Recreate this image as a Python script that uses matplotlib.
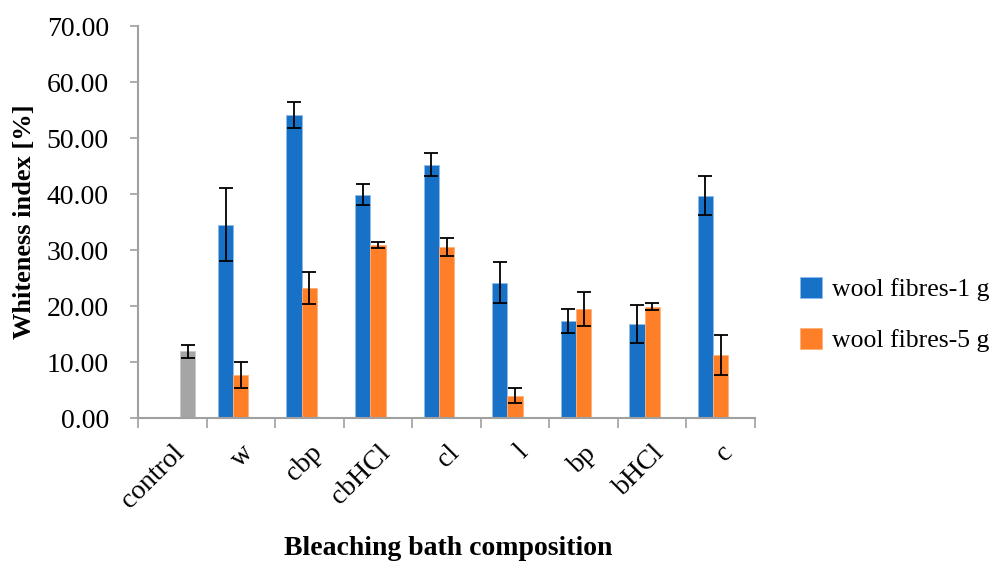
import matplotlib
matplotlib.use("Agg")
import matplotlib.pyplot as plt
import numpy as np

categories = ["control", "w", "cbp", "cbHCl", "cl", "l", "bp", "bHCl", "c"]
wool_1g = [0, 34.5, 54.1, 39.9, 45.2, 24.2, 17.4, 16.8, 39.7]
wool_1g_err = [0, 6.5, 2.4, 1.95, 2.05, 3.7, 2.15, 3.45, 3.45]
wool_5g = [0, 7.7, 23.2, 30.9, 30.6, 4.0, 19.5, 19.9, 11.3]
wool_5g_err = [0, 2.25, 2.85, 0.5, 1.6, 1.35, 3.05, 0.6, 3.55]
control = [11.9, 0, 0, 0, 0, 0, 0, 0, 0]
control_err = [1.1, 0, 0, 0, 0, 0, 0, 0, 0]
yticks = [0, 10, 20, 30, 40, 50, 60, 70]

plt.rcParams['font.family'] = ['Liberation Serif', 'DejaVu Serif']

fig = plt.figure(figsize=(10, 5.63), dpi=100)
ax = fig.add_axes([0.138, 0.2575, 0.617, 0.6963])

x = np.arange(len(categories))
w = 0.223
ekw = dict(elinewidth=1.3, capthick=1.3, ecolor='black')

def draw(vals, errs, off, color, edge, label):
    vals = np.array(vals, float)
    errs = np.array(errs, float)
    m = vals > 0
    ax.bar(x[m] + off, vals[m], w, color=color, edgecolor=edge,
           linewidth=0.6, label=label, zorder=2)
    ax.errorbar(x[m] + off, vals[m], yerr=errs[m], fmt='none', capsize=5, zorder=3, **ekw)

draw(wool_1g, wool_1g_err, -w, '#1772C7', '#8fbbe6', 'wool fibres-1 g')
draw(wool_5g, wool_5g_err, 0, '#FE7F27', '#ffb07a', 'wool fibres-5 g')
draw(control, control_err, w, '#A5A5A5', '#c8c8c8', None)

FS = 20
ax.set_xlim(-0.5, len(categories) - 0.5)
ax.set_ylim(0, 70)
ax.set_yticks(yticks)
ax.set_yticklabels([f"{v:.2f}" for v in yticks], fontsize=FS)
ax.set_xticks(x)
ax.set_xticklabels(categories, rotation=45, ha='right', va='top', rotation_mode='anchor', fontsize=FS)
ax.tick_params(axis='x', length=0, pad=16)
ax.set_xticks(np.arange(len(categories) + 1) - 0.5, minor=True)
ax.tick_params(axis='x', which='minor', length=7, width=1.2, color='#A0A0A0', direction='out')
ax.tick_params(axis='y', length=6, width=1.2, color='#A0A0A0', direction='out', pad=15)

for s in ['top', 'right']:
    ax.spines[s].set_visible(False)
for s in ['left', 'bottom']:
    ax.spines[s].set_color('#A0A0A0')
    ax.spines[s].set_linewidth(1.5)

ax.set_ylabel("Whiteness index [%]", fontsize=19, fontweight='bold')
ax.yaxis.label.set_va('center')
ax.yaxis.set_label_coords(-0.184, 0.5)
ax.set_xlabel("Bleaching bath composition", fontsize=FS, fontweight='bold')
ax.xaxis.label.set_va('center')
ax.xaxis.set_label_coords(0.502, -0.332)

handles, labels = ax.get_legend_handles_labels()
fig.legend(handles, labels, loc='center left', bbox_to_anchor=(0.80, 0.441), frameon=False,
           fontsize=18.5, handlelength=0.85, handleheight=0.85, handletextpad=0.4, labelspacing=1.05,
           borderaxespad=0, borderpad=0)

fig.savefig("out.png", dpi=100)
